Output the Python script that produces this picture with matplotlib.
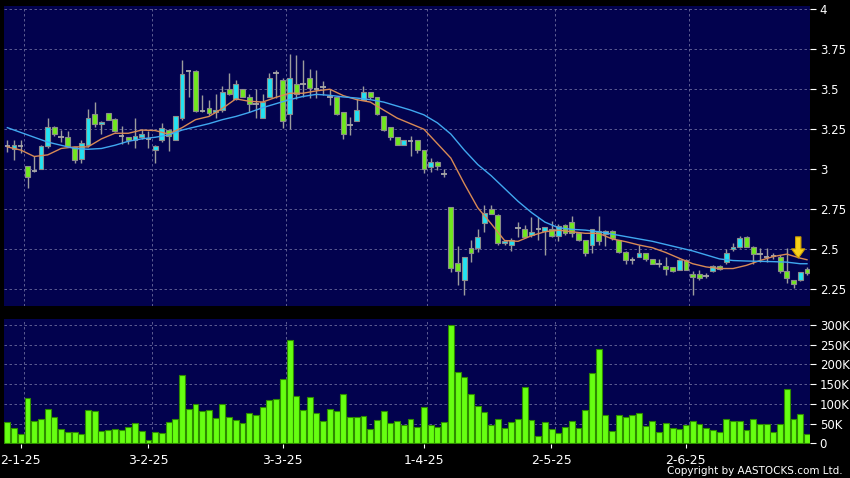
import matplotlib
matplotlib.use('Agg')
import matplotlib.pyplot as plt
import numpy as np
from matplotlib.patches import FancyArrow

# daily OHLC (bar 0 = last days of Dec 2024)
opens = [3.145, 3.125, 3.145, 3.02, 2.99, 3.00, 3.145, 3.265, 3.20, 3.20,
         3.14, 3.065, 3.15, 3.345, 3.285, 3.35, 3.315, 3.21, 3.20, 3.185,
         3.20, 3.19, 3.12, 3.185, 3.245, 3.185, 3.32, 3.615, 3.615, 3.365,
         3.38, 3.355, 3.37, 3.50, 3.44, 3.50, 3.45, 3.41, 3.32, 3.45,
         3.60, 3.56, 3.345, 3.53, 3.53, 3.57, 3.50, 3.515, 3.45, 3.45,
         3.36, 3.275, 3.30, 3.435, 3.48, 3.45, 3.33, 3.265, 3.20, 3.15,
         3.175, 3.18, 3.12, 3.015, 3.045, 2.97, 2.765, 2.415, 2.31, 2.51,
         2.51, 2.665, 2.75, 2.715, 2.537, 2.53, 2.635, 2.63, 2.59, 2.625,
         2.615, 2.63, 2.585, 2.65, 2.67, 2.60, 2.56, 2.53, 2.615, 2.595,
         2.615, 2.56, 2.485, 2.435, 2.45, 2.48, 2.44, 2.41, 2.398, 2.387,
         2.37, 2.435, 2.346, 2.346, 2.333, 2.365, 2.398, 2.42, 2.50, 2.517,
         2.58, 2.517, 2.47, 2.455, 2.46, 2.45, 2.367, 2.31, 2.31, 2.38]
highs = [3.18, 3.185, 3.18, 3.02, 3.08, 3.15, 3.32, 3.27, 3.245, 3.24,
         3.14, 3.18, 3.375, 3.42, 3.30, 3.35, 3.32, 3.27, 3.20, 3.32,
         3.25, 3.24, 3.15, 3.29, 3.25, 3.33, 3.68, 3.62, 3.62, 3.465,
         3.43, 3.47, 3.52, 3.60, 3.56, 3.50, 3.47, 3.50, 3.47, 3.60,
         3.62, 3.57, 3.72, 3.715, 3.68, 3.625, 3.62, 3.55, 3.50, 3.45,
         3.36, 3.325, 3.44, 3.52, 3.48, 3.45, 3.33, 3.265, 3.20, 3.18,
         3.21, 3.18, 3.12, 3.07, 3.05, 3.00, 2.765, 2.52, 2.45, 2.56,
         2.625, 2.78, 2.78, 2.72, 2.56, 2.57, 2.67, 2.65, 2.70, 2.70,
         2.64, 2.68, 2.66, 2.66, 2.71, 2.61, 2.56, 2.63, 2.71, 2.62,
         2.62, 2.56, 2.49, 2.455, 2.53, 2.48, 2.44, 2.44, 2.45, 2.39,
         2.44, 2.44, 2.367, 2.37, 2.35, 2.40, 2.40, 2.505, 2.54, 2.583,
         2.585, 2.52, 2.506, 2.51, 2.48, 2.465, 2.506, 2.31, 2.36, 2.39]
lows = [3.11, 3.06, 3.10, 2.885, 2.985, 3.00, 3.13, 3.21, 3.17, 3.14,
        3.04, 3.04, 3.14, 3.265, 3.22, 3.31, 3.235, 3.16, 3.16, 3.13,
        3.19, 3.13, 3.04, 3.17, 3.115, 3.18, 3.31, 3.45, 3.36, 3.36,
        3.34, 3.32, 3.36, 3.465, 3.435, 3.45, 3.36, 3.32, 3.32, 3.45,
        3.445, 3.26, 3.25, 3.44, 3.45, 3.445, 3.445, 3.465, 3.40, 3.34,
        3.19, 3.215, 3.30, 3.43, 3.44, 3.34, 3.24, 3.18, 3.15, 3.15,
        3.08, 3.10, 2.975, 2.985, 2.995, 2.95, 2.36, 2.28, 2.215, 2.42,
        2.485, 2.61, 2.72, 2.53, 2.53, 2.49, 2.58, 2.57, 2.58, 2.56,
        2.465, 2.58, 2.55, 2.59, 2.58, 2.55, 2.46, 2.48, 2.53, 2.52,
        2.56, 2.48, 2.41, 2.41, 2.45, 2.43, 2.41, 2.39, 2.34, 2.36,
        2.37, 2.37, 2.215, 2.31, 2.32, 2.36, 2.37, 2.41, 2.49, 2.51,
        2.515, 2.41, 2.42, 2.42, 2.44, 2.35, 2.29, 2.26, 2.30, 2.34]
closes = [3.145, 3.15, 3.145, 2.95, 2.99, 3.145, 3.265, 3.22, 3.20, 3.145,
          3.06, 3.165, 3.32, 3.285, 3.295, 3.31, 3.24, 3.21, 3.185, 3.21,
          3.22, 3.19, 3.145, 3.26, 3.205, 3.33, 3.595, 3.615, 3.365, 3.365,
          3.35, 3.37, 3.48, 3.47, 3.53, 3.45, 3.41, 3.41, 3.42, 3.57,
          3.60, 3.30, 3.57, 3.47, 3.53, 3.51, 3.50, 3.515, 3.45, 3.345,
          3.22, 3.275, 3.37, 3.48, 3.45, 3.345, 3.245, 3.20, 3.15, 3.18,
          3.175, 3.12, 3.00, 3.045, 3.02, 2.97, 2.385, 2.365, 2.45, 2.48,
          2.58, 2.73, 2.72, 2.54, 2.552, 2.56, 2.635, 2.58, 2.61, 2.625,
          2.64, 2.585, 2.645, 2.60, 2.605, 2.56, 2.48, 2.63, 2.55, 2.615,
          2.57, 2.485, 2.433, 2.435, 2.48, 2.44, 2.41, 2.41, 2.375, 2.367,
          2.435, 2.37, 2.33, 2.32, 2.333, 2.398, 2.375, 2.48, 2.515, 2.57,
          2.517, 2.47, 2.47, 2.455, 2.46, 2.367, 2.319, 2.283, 2.36, 2.35]
# volume in thousands of shares
volume_k = [55, 40, 25, 115, 57, 62, 87, 66, 36, 29,
            28, 25, 84, 82, 31, 34, 36, 34, 41, 52,
            31, 9, 28, 26, 54, 63, 173, 87, 101, 81,
            84, 64, 101, 67, 60, 51, 76, 73, 91, 111,
            112, 162, 262, 120, 85, 118, 78, 58, 88, 82,
            124, 68, 66, 69, 37, 59, 81, 51, 57, 46,
            63, 41, 91, 46, 41, 55, 300, 182, 167, 126,
            95, 80, 46, 63, 39, 54, 63, 142, 59, 19,
            55, 37, 26, 41, 58, 38, 84, 179, 238, 72,
            31, 72, 67, 71, 78, 44, 57, 30, 51, 40,
            37, 46, 58, 49, 38, 35, 29, 61, 58, 58,
            34, 61, 48, 48, 30, 50, 138, 63, 74, 25]

# moving averages every other bar
ma_idx = list(range(0, 120, 2)) + [119]
ma_fast = [3.14, 3.12, 3.08, 3.09, 3.13, 3.14, 3.14, 3.19, 3.225, 3.225,
           3.245, 3.242, 3.22, 3.26, 3.31, 3.33, 3.38, 3.44, 3.425, 3.42,
           3.45, 3.475, 3.475, 3.49, 3.50, 3.46, 3.435, 3.42, 3.37, 3.32,
           3.285, 3.25, 3.16, 3.07, 2.91, 2.76, 2.66, 2.555, 2.55, 2.585,
           2.61, 2.62, 2.61, 2.60, 2.60, 2.565, 2.548, 2.527, 2.51, 2.48,
           2.444, 2.41, 2.39, 2.38, 2.38, 2.40, 2.43, 2.455, 2.47, 2.445,
           2.435]
ma_slow = [3.26, 3.23, 3.20, 3.17, 3.15, 3.13, 3.125, 3.13, 3.15, 3.175,
           3.19, 3.20, 3.215, 3.245, 3.265, 3.285, 3.31, 3.33, 3.355, 3.385,
           3.41, 3.435, 3.455, 3.468, 3.462, 3.452, 3.445, 3.435, 3.42, 3.395,
           3.37, 3.34, 3.29, 3.22, 3.12, 3.03, 2.96, 2.88, 2.80, 2.73,
           2.67, 2.635, 2.625, 2.62, 2.61, 2.595, 2.58, 2.565, 2.55, 2.53,
           2.51, 2.49, 2.465, 2.44, 2.43, 2.427, 2.425, 2.423, 2.42, 2.41,
           2.41]

date_idx = [3, 22, 42, 63, 82, 102]
date_labels = ['2-1-25', '3-2-25', '3-3-25', '1-4-25', '2-5-25', '2-6-25']
price_ticks = [2.25, 2.5, 2.75, 3, 3.25, 3.5, 3.75, 4]
price_labels = ['2.25', '2.5', '2.75', '3', '3.25', '3.5', '3.75', '4']
vol_ticks = [0, 50, 100, 150, 200, 250, 300]
vol_labels = ['0', '50K', '100K', '150K', '200K', '250K', '300K']

bg = '#02024e'
grid_c = '#6b6b9c'
up_c = '#22e2f2'
down_c = '#70e81e'

fig = plt.figure(figsize=(8.5, 4.78), dpi=100, facecolor='black')
ax = fig.add_axes([4/850, 1-306/478, 806/850, 300/478], facecolor=bg)
axv = fig.add_axes([4/850, 1-444/478, 806/850, 125/478], facecolor=bg)

x = np.arange(len(opens))
o = np.array(opens)
h = np.array(highs)
l = np.array(lows)
c = np.array(closes)
up = c > o
down = c < o
flat = c == o

#grid
for a in (ax, axv):
    for d in date_idx:
        a.axvline(d - 0.5, color=grid_c, lw=0.6, ls=(0, (3, 3)), zorder=0)
    for s in a.spines.values():
        s.set_visible(False)
for p in price_ticks:
    ax.axhline(p, color=grid_c, lw=0.6, ls=(0, (3, 3)), zorder=0)
for v in vol_ticks[1:]:
    axv.axhline(v, color=grid_c, lw=0.6, ls=(0, (3, 3)), zorder=0)

# candles
ax.vlines(x, l, h, color='#9c9c9c', lw=1, zorder=2)
ax.bar(x[up], (c - o)[up], bottom=o[up], width=0.72, color=up_c,
       edgecolor='#8c8c8c', lw=0.8, zorder=3)
ax.bar(x[down], (o - c)[down], bottom=c[down], width=0.72, color=down_c,
       edgecolor='#8c8c8c', lw=0.8, zorder=3)
ax.hlines(o[flat], x[flat] - 0.4, x[flat] + 0.4, color='#a8a8a8', lw=1.3, zorder=3)

# moving averages
ax.plot(ma_idx, ma_fast, color='#d88a55', lw=1, zorder=4)
ax.plot(ma_idx, ma_slow, color='#40a8f0', lw=1, zorder=4)

arrow = FancyArrow(117.7, 2.578, 0, -0.133, width=0.8, head_width=2.0,
                   head_length=0.058, length_includes_head=True,
                   fc='#f8d21a', ec='#c99a00', lw=0.8, zorder=6)
ax.add_patch(arrow)

ax.set_xlim(-0.5, 119.45)
ax.set_ylim(2.146, 4.02)
ax.yaxis.tick_right()
ax.set_yticks(price_ticks)
ax.set_yticklabels(price_labels)
ax.set_xticks([])
ax.tick_params(axis='y', colors='white', length=4, width=0.8, pad=3, labelsize=8.5)

# volume
axv.bar(x, volume_k, width=0.88, color='#66ff11', edgecolor='#2e8c00', lw=0.8, zorder=3)
axv.set_xlim(-0.5, 119.45)
axv.set_ylim(-1.5, 315)
axv.yaxis.tick_right()
axv.set_yticks(vol_ticks)
axv.set_yticklabels(vol_labels)
axv.set_xticks([d - 1.03 for d in date_idx])
axv.set_xticklabels(date_labels)
axv.tick_params(axis='y', colors='white', length=4, width=0.8, pad=3, labelsize=8.5)
axv.tick_params(axis='x', colors='white', length=3, width=0.8, pad=4, labelsize=9)

fig.text(0.991, 0.004, 'Copyright by AASTOCKS.com Ltd.', ha='right', va='bottom',
         color='white', fontsize=7.5)

fig.savefig('out.png', dpi=100, facecolor='black')
